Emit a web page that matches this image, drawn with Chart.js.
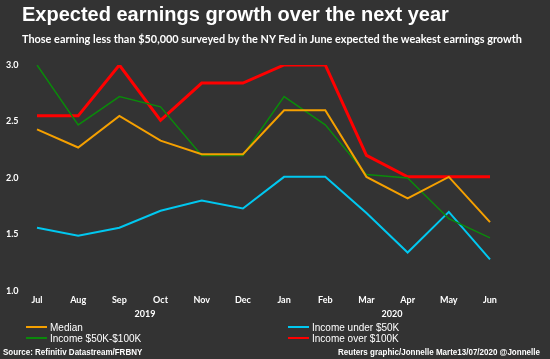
<!DOCTYPE html>
<html>
<head>
<meta charset="utf-8">
<script src="https://cdn.jsdelivr.net/npm/chart.js@4.4.0/dist/chart.umd.min.js"></script>
<style>
  html, body { margin: 0; padding: 0; background: #333333; }
  #wrap { position: relative; width: 550px; height: 359px; overflow: hidden; background: #333333; }
  #myChart { position: absolute; left: 0; top: 0; }
  .txt { position: absolute; color: #fff; white-space: nowrap; }
  #title { left: 22px; top: 3px; font: bold 20px "Liberation Sans", Arial, sans-serif; }
  #subtitle { left: 22px; top: 32px; font: bold 10.9px Lato, sans-serif; }
  .leg { position: absolute; font: 10px "Liberation Sans", Arial, sans-serif; color: #fff; white-space: nowrap; }
  .leg i { display: inline-block; width: 21px; height: 2px; vertical-align: middle; margin-right: 3px; position: relative; top: -1px; }
  .src { position: absolute; font: bold 9px "Liberation Sans", Arial, sans-serif; color: #fff; white-space: nowrap; transform-origin: left top; transform: scaleX(0.89); }
</style>
</head>
<body>
<div id="wrap">
  <canvas id="myChart" width="550" height="359"></canvas>
  <div class="txt" id="title">Expected earnings growth over the next year</div>
  <div class="txt" id="subtitle">Those earning less than $50,000 surveyed by the NY Fed in June expected the weakest earnings growth</div>
  <div class="leg" style="left:26px;top:322px"><i style="background:#f5a000"></i>Median</div>
  <div class="leg" style="left:26px;top:333px"><i style="background:#0a8a0a"></i>Income $50K-$100K</div>
  <div class="leg" style="left:288px;top:322px"><i style="background:#00c8f0"></i>Income under $50K</div>
  <div class="leg" style="left:288px;top:333px"><i style="background:#ff0000"></i>Income over $100K</div>
  <div class="src" style="left:3px;top:347px">Source: Refinitiv Datastream/FRBNY</div>
  <div class="src" style="left:338px;top:347px">Reuters graphic/Jonnelle Marte13/07/2020 @Jonnelle</div>
</div>
<script>
const months = ["Jul", "Aug", "Sep", "Oct", "Nov", "Dec", "Jan", "Feb", "Mar", "Apr", "May", "Jun"];
const years = ["2019", "2020"];
const median = [2.43, 2.27, 2.55, 2.33, 2.21, 2.21, 2.60, 2.60, 2.01, 1.82, 2.01, 1.61];
const income50to100 = [3.00, 2.47, 2.72, 2.63, 2.20, 2.20, 2.72, 2.47, 2.03, 2.00, 1.64, 1.47];
const incomeUnder50 = [1.56, 1.49, 1.56, 1.71, 1.80, 1.73, 2.01, 2.01, 1.69, 1.34, 1.70, 1.28];
const incomeOver100 = [2.55, 2.55, 3.00, 2.51, 2.84, 2.84, 3.00, 3.00, 2.20, 2.01, 2.01, 2.01];
const yTicks = [1.0, 1.5, 2.0, 2.5, 3.0];

// draws the year labels under the month labels
const yearLabels = {
  id: "yearLabels",
  afterDraw(chart) {
    const x = chart.scales.x;
    const c = chart.ctx;
    c.save();
    c.fillStyle = "#ffffff";
    c.font = "bold 9px Lato, sans-serif";
    c.textAlign = "center";
    c.textBaseline = "middle";
    years.forEach((yr, i) => {
      const a = x.getPixelForValue(i * 6);
      const b = x.getPixelForValue(i * 6 + 5);
      c.fillText(yr, (a + b) / 2 + 5, x.top + 23);
    });
    c.restore();
  }
};

const ctx = document.getElementById("myChart").getContext("2d");
var myChart = new Chart(ctx, {
  type: "line",
  plugins: [yearLabels],
  data: {
    labels: months,
    datasets: [
      { label: "Median", data: median, borderColor: "#f5a000", borderWidth: 2 },
      { label: "Income $50K-$100K", data: income50to100, borderColor: "#0a8a0a", borderWidth: 1.5 },
      { label: "Income under $50K", data: incomeUnder50, borderColor: "#00c8f0", borderWidth: 2 },
      { label: "Income over $100K", data: incomeOver100, borderColor: "#ff0000", borderWidth: 3 }
    ]
  },
  options: {
    responsive: false,
    animation: false,
    layout: { padding: { left: 6, right: 60, top: 65, bottom: 48 } },
    elements: { point: { radius: 0 }, line: { tension: 0 } },
    plugins: { legend: { display: false }, tooltip: { enabled: false } },
    scales: {
      x: {
        offset: false,
        grid: { display: false, drawTicks: false },
        border: { display: false },
        ticks: { color: "#ffffff", font: { family: "Lato", size: 9, weight: "bold" }, padding: 4, maxRotation: 0, autoSkip: false },
        afterFit(s) { s.height = 20; }
      },
      y: {
        min: 1.0,
        max: 3.0,
        grid: { display: false, drawTicks: false },
        border: { display: false },
        afterBuildTicks(s) { s.ticks = yTicks.map(v => ({ value: v })); },
        ticks: {
          color: "#ffffff",
          font: { family: "Lato", size: 9, weight: "bold" },
          crossAlign: "far",
          callback: v => v.toFixed(1)
        },
        afterFit(s) { s.width = 31; }
      }
    }
  }
});
</script>
</body>
</html>
